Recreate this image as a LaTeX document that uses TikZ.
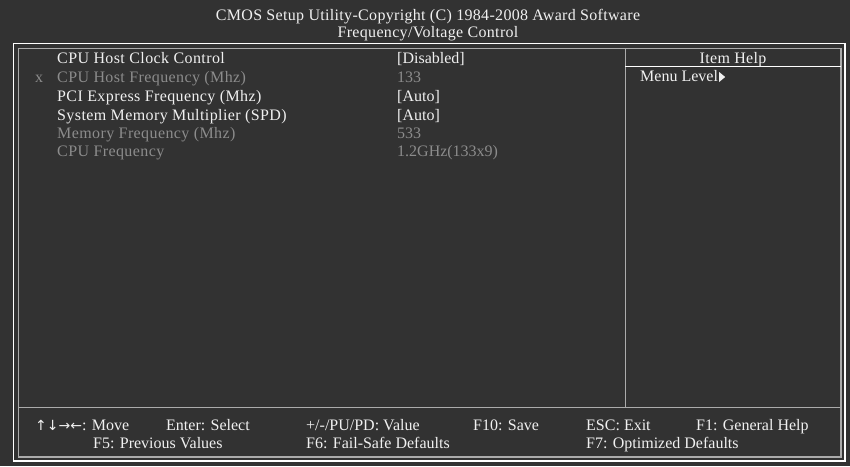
\documentclass[tikz,border=0pt]{standalone}
\usepackage{fontspec}
\setmainfont{Liberation Serif}
\newfontfamily\biosspaced[LetterSpace=2.5]{Liberation Serif}
\newfontfamily\biostitle[LetterSpace=2]{Liberation Serif}
\newfontfamily\biosarrows{DejaVu Sans}
\usetikzlibrary{positioning}
\definecolor{biosbg}{HTML}{323232}
\definecolor{biosfg}{HTML}{F0F0F0}
\definecolor{biosdim}{HTML}{8C8C8C}
\definecolor{biosrule}{HTML}{ABABAB}
\tikzstyle{item}=[anchor=base west,inner sep=0pt,text=biosfg,font=\fontsize{16}{18}\selectfont]
\tikzstyle{label}=[item,font=\biosspaced\fontsize{16}{18}\selectfont]
\tikzstyle{label_dim}=[label,text=biosdim]
\tikzstyle{item_dim}=[item,text=biosdim]
\tikzstyle{head}=[anchor=base,inner sep=0pt,text=biosfg,font=\biostitle\fontsize{16}{18}\selectfont]
\newcommand{\labelx}{57}
\newcommand{\valuex}{397}
\newcommand{\keyarrows}{{\biosarrows\fontsize{14}{18}\selectfont ↑↓→←}}

\begin{document}
\begin{tikzpicture}[x=1pt,y=-1pt]

  \fill[biosbg] (0,0) rectangle (850,466);
  \draw[white,line width=1.3pt] (13.5,43.5) rectangle (845,461);
  \draw[biosrule,line width=1.3pt] (18.5,48.5) rectangle (841,457);
  \draw[biosrule,line width=1pt] (625,48.5) -- (625,407);
  \draw[biosrule,line width=1pt] (18.5,407) -- (841,407);
  \draw[white,line width=1pt] (625,66) -- (841,66);

  \node[head] (title1) at (428,20) {CMOS Setup Utility-Copyright (C) 1984-2008 Award Software};
  \node[head] (title2) at (428,37) {Frequency/Voltage Control};

  \node[label]     (clkctl)  at (\labelx,63)  {CPU Host Clock Control};
  \node[item_dim]  (mark)    at (35,82)       {x};
  \node[label_dim] (hostfrq) at (\labelx,82)  {CPU Host Frequency (Mhz)};
  \node[label]     (pcie)    at (\labelx,101) {PCI Express Frequency (Mhz)};
  \node[label]     (memmul)  at (\labelx,120) {System Memory Multiplier (SPD)};
  \node[label_dim] (memfrq)  at (\labelx,138) {Memory Frequency (Mhz)};
  \node[label_dim] (cpufrq)  at (\labelx,156) {CPU Frequency};

  \node[item]     (v_clkctl)  at (\valuex,63)  {[Disabled]};
  \node[item_dim] (v_hostfrq) at (\valuex,82)  {133};
  \node[item]     (v_pcie)    at (\valuex,101) {[Auto]};
  \node[item]     (v_memmul)  at (\valuex,120) {[Auto]};
  \node[item_dim] (v_memfrq)  at (\valuex,138) {533};
  \node[item_dim] (v_cpufrq)  at (\valuex,156) {1.2GHz(133x9)};

  \node[head] (helphead) at (733,63) {Item Help};
  \node[item] (menulvl)  at (640,81) {Menu Level};
  \fill[biosfg] ([xshift=1pt,yshift=-1pt]menulvl.base east) -- ++(0,-10) -- ++(6,5) -- cycle;

  \node[item] (k_move)   at (35,430)  {\keyarrows: Move};
  \node[item] (k_enter)  at (166,430) {Enter: Select};
  \node[item] (k_value)  at (306,430) {+/-/PU/PD: Value};
  \node[item] (k_save)   at (473,430) {F10: Save};
  \node[item] (k_esc)    at (586,430) {ESC: Exit};
  \node[item] (k_help)   at (696,430) {F1: General Help};
  \node[item] (k_prev)   at (93,448)  {F5: Previous Values};
  \node[item] (k_fail)   at (306,448) {F6: Fail-Safe Defaults};
  \node[item] (k_opt)    at (586,448) {F7: Optimized Defaults};
\end{tikzpicture}
\end{document}
